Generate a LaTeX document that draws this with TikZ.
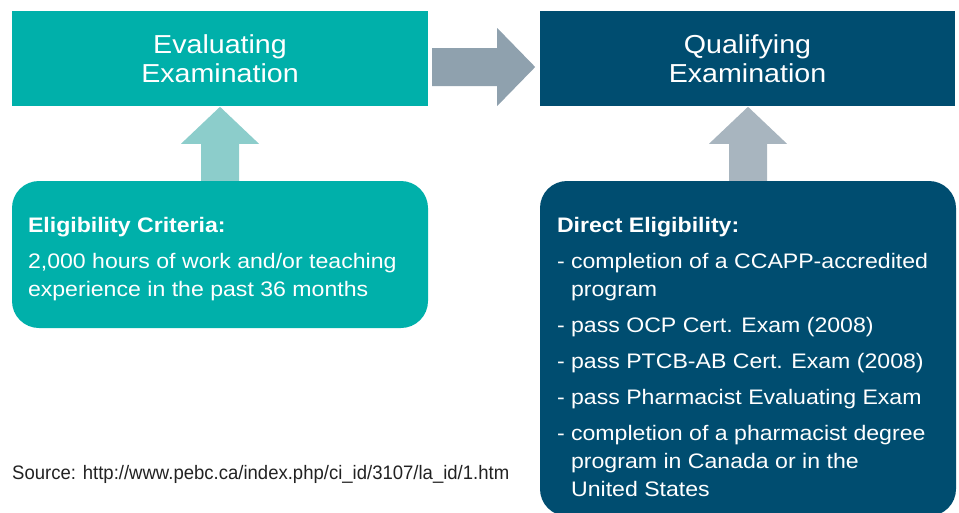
\documentclass[tikz,border=0pt]{standalone}
\usepackage{fontspec}
\setmainfont[FakeStretch=1.1]{Liberation Sans}
\newfontfamily\srcfont[FakeStretch=0.95]{Liberation Sans}
\usetikzlibrary{calc}
\definecolor{evalteal}{HTML}{00B0AA}
\definecolor{qualblue}{HTML}{004D70}
\definecolor{flowgray}{HTML}{8FA1AE}
\definecolor{tealarrow}{HTML}{8CCDCB}
\definecolor{bluearrow}{HTML}{A8B5BF}
\definecolor{srcgray}{HTML}{222222}
\tikzset{
  exambox/.style={minimum width=416pt,minimum height=95pt,inner sep=0pt,text=white,align=center,font=\fontsize{26}{29}\selectfont},
  critbox/.style={rounded corners=27pt,inner sep=0pt,minimum width=416pt},
  bodytext/.style={anchor=north west,inner sep=0pt,text=white,align=left,font=\fontsize{21}{28}\selectfont},
}
\begin{document}
\begin{tikzpicture}[x=1pt,y=-1pt]
	\useasboundingbox (0,0) rectangle (959,512);
	% exam boxes
	\node[exambox,fill=evalteal] (evalbox) at (220,58.5) {Evaluating\\Examination};
	\node[exambox,fill=qualblue,minimum width=415pt] (qualbox) at (747.5,58.5) {Qualifying\\Examination};
	% eligibility boxes
	\node[critbox,fill=evalteal,minimum height=147pt] (elbox) at (220,254.5) {};
	\node[critbox,fill=qualblue,minimum height=335pt] (dirbox) at (748,348.5) {};
	\node[bodytext] (eltext) at ($(elbox.north west)+(16,36)$) {\textbf{Eligibility Criteria:}\\[8pt]
		2,000 hours of work and/or teaching\\experience in the past 36 months};
	\node[bodytext] (dirtext) at ($(dirbox.north west)+(17,36)$) {\textbf{Direct Eligibility:}\\[8pt]
		- completion of a CCAPP-accredited\\\hphantom{- }program\\[8pt]
		- pass OCP Cert. Exam (2008)\\[8pt]
		- pass PTCB-AB Cert. Exam (2008)\\[8pt]
		- pass Pharmacist Evaluating Exam\\[8pt]
		- completion of a pharmacist degree\\\hphantom{- }program in Canada or in the\\\hphantom{- }United States};
	% arrow from evaluating to qualifying
	\fill[flowgray] ($(evalbox.east)+(4,-10.5)$) -- ++(65,0) -- ++(0,-20) -- ++(38,39) -- ++(-38,39) -- ++(0,-20) -- ++(-65,0) -- cycle;
	% up arrows
	\fill[tealarrow] (elbox.north) ++(-19,0) -- ++(0,-37) -- ++(-20,0) -- ++(39,-37) -- ++(39,37) -- ++(-20,0) -- ++(0,37) -- cycle;
	\fill[bluearrow] (dirbox.north) ++(-19,0) -- ++(0,-37) -- ++(-20,0) -- ++(39,-37) -- ++(39,37) -- ++(-20,0) -- ++(0,37) -- cycle;
	% source
	\node[anchor=base west,inner sep=0pt,text=srcgray,font=\srcfont\fontsize{19.5}{20}\selectfont] (srcnote) at (12,479) {Source: http://www.pebc.ca/index.php/ci\_id/3107/la\_id/1.htm};
\end{tikzpicture}
\end{document}
